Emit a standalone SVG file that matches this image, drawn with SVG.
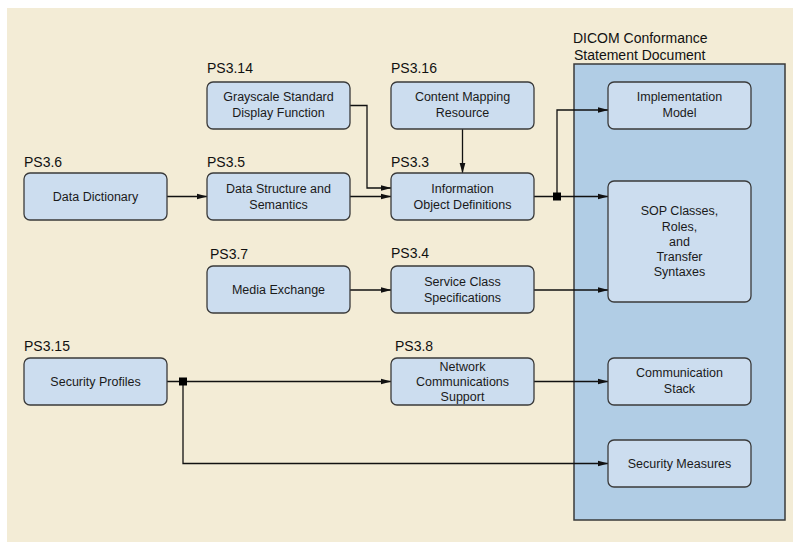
<svg xmlns="http://www.w3.org/2000/svg" width="793" height="543" viewBox="0 0 793 543">
<defs>
<marker id="arr" markerWidth="11" markerHeight="7" refX="10.5" refY="3.5" orient="auto" markerUnits="userSpaceOnUse">
<path d="M0,0.5 L11,3.5 L0,6.5 Z" fill="#111"/>
</marker>
</defs>
<style>
.n{fill:#CCDDEF;stroke:#3a3a3a;stroke-width:1.3}
.t{font-family:"Liberation Sans",Arial,sans-serif;font-size:12.5px;fill:#1a1a1a;text-anchor:middle}
.l{font-family:"Liberation Sans",Arial,sans-serif;font-size:14px;fill:#111}
.c{fill:none;stroke:#111;stroke-width:1.3}
</style>
<rect x="0" y="0" width="793" height="543" fill="#ffffff"/>
<rect x="7" y="8" width="786" height="534" fill="#F3ECD6"/>
<g id="doc">
<rect x="574" y="64" width="211" height="456" fill="#B1CDE5" stroke="#3a3a3a" stroke-width="1.5"/>
<text class="l" x="573" y="43">DICOM Conformance</text>
<text class="l" x="574" y="60">Statement Document</text>
</g>
<g id="connectors">
<path class="c" d="M167,196.5 H207" marker-end="url(#arr)"/>
<path class="c" d="M350,196.5 H391" marker-end="url(#arr)"/>
<path class="c" d="M350,105.5 H367 V188 H391" marker-end="url(#arr)"/>
<path class="c" d="M462.5,129 V173" marker-end="url(#arr)"/>
<path class="c" d="M534,196.5 H608" marker-end="url(#arr)"/>
<path class="c" d="M557,196.5 V110 H608" marker-end="url(#arr)"/>
<rect x="553" y="192.5" width="8" height="8" fill="#000"/>
<path class="c" d="M350,290 H391" marker-end="url(#arr)"/>
<path class="c" d="M534,290 H608" marker-end="url(#arr)"/>
<path class="c" d="M167,381.5 H391" marker-end="url(#arr)"/>
<path class="c" d="M534,381.5 H608" marker-end="url(#arr)"/>
<path class="c" d="M183,381.5 V463.5 H608" marker-end="url(#arr)"/>
<rect x="179" y="377.5" width="8" height="8" fill="#000"/>
</g>
<g id="ps36">
<text class="l" x="24" y="167">PS3.6</text>
<rect class="n" x="24" y="173" width="143" height="47" rx="6"/>
<text class="t" x="95.5" y="201">Data Dictionary</text>
</g>
<g id="ps314">
<text class="l" x="207" y="73">PS3.14</text>
<rect class="n" x="207" y="82" width="143" height="47" rx="6"/>
<text class="t" x="278.5" y="101">Grayscale Standard</text>
<text class="t" x="278.5" y="117">Display Function</text>
</g>
<g id="ps35">
<text class="l" x="207" y="167">PS3.5</text>
<rect class="n" x="207" y="173" width="143" height="47" rx="6"/>
<text class="t" x="278.5" y="193">Data Structure and</text>
<text class="t" x="278.5" y="209">Semantics</text>
</g>
<g id="ps316">
<text class="l" x="391" y="73">PS3.16</text>
<rect class="n" x="391" y="82" width="143" height="47" rx="6"/>
<text class="t" x="462.5" y="101">Content Mapping</text>
<text class="t" x="462.5" y="117">Resource</text>
</g>
<g id="ps33">
<text class="l" x="391" y="167">PS3.3</text>
<rect class="n" x="391" y="173" width="143" height="47" rx="6"/>
<text class="t" x="462.5" y="193">Information</text>
<text class="t" x="462.5" y="209">Object Definitions</text>
</g>
<g id="ps37">
<text class="l" x="210" y="259">PS3.7</text>
<rect class="n" x="207" y="266" width="143" height="47" rx="6"/>
<text class="t" x="278.5" y="294">Media Exchange</text>
</g>
<g id="ps34">
<text class="l" x="391" y="258">PS3.4</text>
<rect class="n" x="391" y="266" width="143" height="47" rx="6"/>
<text class="t" x="462.5" y="285.5">Service Class</text>
<text class="t" x="462.5" y="301.5">Specifications</text>
</g>
<g id="ps315">
<text class="l" x="24" y="351">PS3.15</text>
<rect class="n" x="24" y="358" width="143" height="47" rx="6"/>
<text class="t" x="95.5" y="386">Security Profiles</text>
</g>
<g id="ps38">
<text class="l" x="395" y="351">PS3.8</text>
<rect class="n" x="391" y="358" width="143" height="47" rx="6"/>
<text class="t" x="462.5" y="370.5">Network</text>
<text class="t" x="462.5" y="385.5">Communications</text>
<text class="t" x="462.5" y="400.5">Support</text>
</g>
<g id="impl">
<rect class="n" x="608" y="82" width="143" height="47" rx="6"/>
<text class="t" x="679.5" y="101">Implementation</text>
<text class="t" x="679.5" y="117">Model</text>
</g>
<g id="sop">
<rect class="n" x="608" y="181" width="143" height="121" rx="6"/>
<text class="t" x="679.5" y="215">SOP Classes,</text>
<text class="t" x="679.5" y="230.5">Roles,</text>
<text class="t" x="679.5" y="246">and</text>
<text class="t" x="679.5" y="261">Transfer</text>
<text class="t" x="679.5" y="276">Syntaxes</text>
</g>
<g id="comm">
<rect class="n" x="608" y="358" width="143" height="47" rx="6"/>
<text class="t" x="679.5" y="377">Communication</text>
<text class="t" x="679.5" y="393">Stack</text>
</g>
<g id="secm">
<rect class="n" x="608" y="440" width="143" height="47" rx="6"/>
<text class="t" x="679.5" y="468">Security Measures</text>
</g>
</svg>
